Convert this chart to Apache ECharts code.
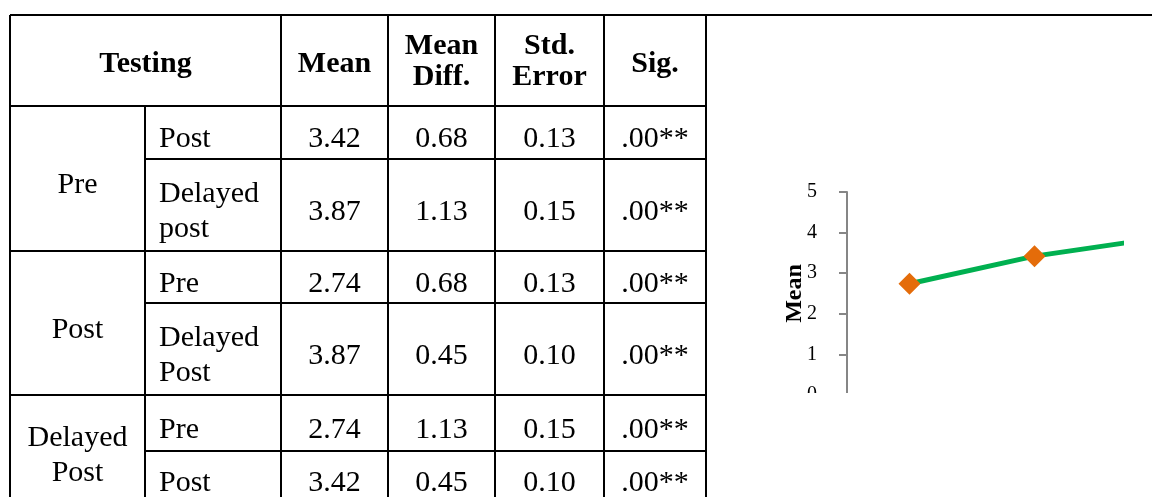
<!DOCTYPE html>
<html>
<head>
<meta charset="utf-8">
<script src="https://cdn.jsdelivr.net/npm/echarts@6/dist/echarts.min.js"></script>
<style>
  html, body { margin: 0; padding: 0; background: #fff; }
  #table { position: absolute; left: 0; top: 0; width: 1152px; height: 497px; }
  #clip { position: absolute; left: 707px; top: 17px; width: 417px; height: 376px; overflow: hidden; }
  #chart { position: absolute; left: 0; top: 0; width: 660px; height: 480px; }
</style>
</head>
<body>
<div id="table"></div>
<div id="clip"><div id="chart"></div></div>
<script>
// ---------- table data ----------
const headerLabels = ['Testing', 'Mean', 'Mean\nDiff.', 'Std.\nError', 'Sig.'];
const groupLabels = ['Pre', 'Post', 'Delayed\nPost'];
const compareLabels = ['Post', 'Delayed\npost', 'Pre', 'Delayed\nPost', 'Pre', 'Post'];
const meanValues = ['3.42', '3.87', '2.74', '3.87', '2.74', '3.42'];
const meanDiffValues = ['0.68', '1.13', '0.68', '0.45', '1.13', '0.45'];
const stdErrorValues = ['0.13', '0.15', '0.13', '0.10', '0.15', '0.10'];
const sigValues = ['.00**', '.00**', '.00**', '.00**', '.00**', '.00**'];

// ---------- chart data ----------
const chartCategories = ['Pre', 'Post', 'Delayed Post'];
const chartMeans = [2.74, 3.42, 3.87];
const yAxisName = 'Mean';
const yMin = 0, yMax = 5, yInterval = 1;

// ---------- table layout ----------
const colX = [10, 145, 281, 388, 495, 604, 706];
const rowY = [15, 106, 159, 251, 303, 395, 451, 502];
const rightEdge = 1152;
const FONT = '"Liberation Serif", "Times New Roman", serif';
const FS = 30;
const bodyDy = 7;
const bodyLH = 35;
const headLH = 31;

const els = [];
function line(x1, y1, x2, y2) {
  els.push({ type: 'line', shape: { x1, y1, x2, y2 }, style: { stroke: '#000', lineWidth: 2 }, silent: true });
}
function text(str, x, y, align, bold, lh) {
  els.push({
    type: 'text', x, y, silent: true,
    style: {
      text: str, fill: '#000', fontFamily: FONT, fontSize: FS,
      fontWeight: bold ? 'bold' : 'normal',
      align: align, verticalAlign: 'middle', lineHeight: lh
    }
  });
}
// grid lines
line(colX[0], rowY[0], rightEdge, rowY[0]);
line(colX[0], rowY[1], colX[6], rowY[1]);
for (let g = 1; g < groupLabels.length; g++) line(colX[0], rowY[1 + 2 * g], colX[6], rowY[1 + 2 * g]);
for (let g = 0; g < groupLabels.length; g++) line(colX[1], rowY[2 + 2 * g], colX[6], rowY[2 + 2 * g]);
line(colX[0], rowY[0], colX[0], rowY[7]);
line(colX[1], rowY[1], colX[1], rowY[7]);
for (let c = 2; c < colX.length; c++) line(colX[c], rowY[0], colX[c], rowY[7]);

// header
const headY = (rowY[0] + rowY[1]) / 2;
text(headerLabels[0], (colX[0] + colX[2]) / 2, headY + 4, 'center', true, headLH);
for (let i = 1; i < headerLabels.length; i++) {
  text(headerLabels[i], (colX[i + 1] + colX[i + 2]) / 2, headY + (headerLabels[i].includes('\n') ? 1 : 4), 'center', true, headLH);
}
// group labels
groupLabels.forEach((g, i) => {
  const cy = (rowY[1 + 2 * i] + rowY[3 + 2 * i]) / 2 + bodyDy;
  text(g, (colX[0] + colX[1]) / 2, cy, 'center', false, bodyLH);
});
// rows
const numCols = [meanValues, meanDiffValues, stdErrorValues, sigValues];
compareLabels.forEach((lab, r) => {
  const cy = (rowY[1 + r] + rowY[2 + r]) / 2 + bodyDy;
  text(lab, colX[1] + 14, cy, 'left', false, bodyLH);
  numCols.forEach((arr, k) => {
    text(arr[r], (colX[2 + k] + colX[3 + k]) / 2, cy, 'center', false, bodyLH);
  });
});

const tableChart = echarts.init(document.getElementById('table'));
tableChart.setOption({ animation: false, graphic: { elements: els } });

// ---------- line chart ----------
const lineChart = echarts.init(document.getElementById('chart'));
lineChart.setOption({
  animation: false,
  grid: { left: 140, top: 175, width: 375, height: 203, containLabel: false, outerBoundsMode: 'none' },
  xAxis: {
    type: 'category', data: chartCategories, boundaryGap: true,
    axisLine: { show: true, lineStyle: { color: '#868686', width: 2 } },
    axisTick: { show: false },
    axisLabel: { fontFamily: FONT, fontSize: 20, color: '#000' }
  },
  yAxis: {
    type: 'value', min: yMin, max: yMax, interval: yInterval,
    name: yAxisName, nameLocation: 'middle', nameGap: 40, nameMoveOverlap: false,
    nameTextStyle: { fontFamily: FONT, fontSize: 24, fontWeight: 'bold', color: '#000' },
    axisLine: { show: true, lineStyle: { color: '#868686', width: 2 } },
    axisTick: { show: true, length: 8, lineStyle: { color: '#868686', width: 2 } },
    axisLabel: { fontFamily: FONT, fontSize: 20, color: '#000', margin: 30 },
    splitLine: { show: false }
  },
  series: [{
    type: 'line', data: chartMeans,
    symbol: 'diamond', symbolSize: 22,
    lineStyle: { color: '#00B050', width: 5 },
    itemStyle: { color: '#E46C0A' },
    emphasis: { disabled: true }
  }]
});
</script>
</body>
</html>
